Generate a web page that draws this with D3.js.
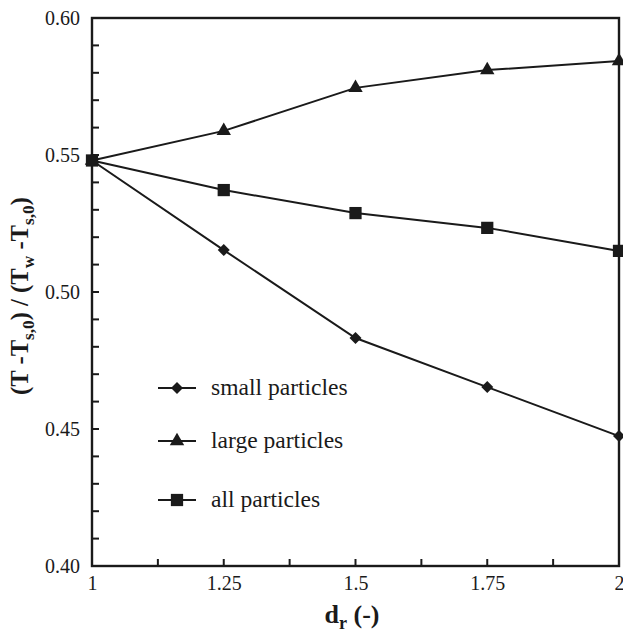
<!DOCTYPE html>
<html>
<head>
<meta charset="utf-8">
<script src="https://cdn.jsdelivr.net/npm/d3@7"></script>
<style>
  body { margin: 0; background: #fff; }
  svg text { font-family: "Liberation Serif", "Times New Roman", Times, "DejaVu Serif", serif; fill: #1a1a1a; }
</style>
</head>
<body>
<div id="chart"></div>
<script>
// data
const dr = [1, 1.25, 1.5, 1.75, 2];
const smallParticles = [0.548, 0.5153, 0.4832, 0.4653, 0.4474];
const largeParticles = [0.548, 0.5588, 0.5745, 0.581, 0.5843];
const allParticles = [0.548, 0.5372, 0.5288, 0.5234, 0.515];
const xTicks = [1, 1.25, 1.5, 1.75, 2];
const yTicks = [0.4, 0.45, 0.5, 0.55, 0.6];

const width = 623, height = 632;
const margin = { top: 18, right: 4, bottom: 66, left: 92 };
const ink = "#1a1a1a";
const serif = '"Liberation Serif", "Times New Roman", Times, "DejaVu Serif", serif';

const svg = d3.select("#chart").append("svg")
  .attr("width", width)
  .attr("height", height);

// scale a text (and its tspans) so its length matches what the reference shows
function fitWidth(sel, target) {
  const w = sel.node().getBBox().width;
  if (!w) return 1;
  const k = target / w;
  sel.attr("font-size", +sel.attr("font-size") * k);
  sel.selectAll("tspan").each(function () {
    const t = d3.select(this);
    if (t.attr("font-size")) t.attr("font-size", +t.attr("font-size") * k);
    if (t.attr("dy")) t.attr("dy", +t.attr("dy") * k);
  });
  return k;
}

const x = d3.scaleLinear().domain([1, 2]).range([margin.left, width - margin.right]);
const y = d3.scaleLinear().domain([0.4, 0.6]).range([height - margin.bottom, margin.top]);

// minor ticks, pointing inward
const xMinor = d3.range(1, 2.0001, 0.125);
const yMinor = d3.range(0.4, 0.6001, 0.01);

svg.append("g")
  .selectAll("line")
  .data(xMinor)
  .join("line")
  .attr("x1", d => x(d)).attr("x2", d => x(d))
  .attr("y1", y(0.4)).attr("y2", y(0.4) - 7)
  .attr("stroke", ink).attr("stroke-width", 2);

svg.append("g")
  .selectAll("line")
  .data(yMinor)
  .join("line")
  .attr("x1", x(1)).attr("x2", x(1) + 7)
  .attr("y1", d => y(d)).attr("y2", d => y(d))
  .attr("stroke", ink).attr("stroke-width", 2);

// frame
svg.append("rect")
  .attr("x", x(1)).attr("y", y(0.6))
  .attr("width", x(2) - x(1)).attr("height", y(0.4) - y(0.6))
  .attr("fill", "none").attr("stroke", ink).attr("stroke-width", 2.4);

// tick labels through d3 axes (lines hidden)
const xAxis = svg.append("g")
  .attr("transform", `translate(0, ${y(0.4)})`)
  .call(d3.axisBottom(x).tickValues(xTicks).tickSize(0).tickPadding(10)
    .tickFormat(d => d3.format("")(d)));
xAxis.attr("font-family", serif);
xAxis.select(".domain").remove();

const yAxis = svg.append("g")
  .attr("transform", `translate(${x(1)}, 0)`)
  .call(d3.axisLeft(y).tickValues(yTicks).tickSize(0).tickPadding(12)
    .tickFormat(d3.format(".2f")));
yAxis.attr("font-family", serif);
yAxis.select(".domain").remove();

const tickText = svg.selectAll(".tick text").attr("font-size", 18).attr("fill", ink);
const probe = yAxis.selectAll(".tick text").filter(d => d === 0.6);
const kTick = probe.node().getBBox().width ? 35 / probe.node().getBBox().width : 1;
tickText.attr("font-size", 18 * kTick);

// series
const series = [
  { name: "small particles", values: smallParticles, symbol: d3.symbolSquare, size: 72, rot: 45 },
  { name: "large particles", values: largeParticles, symbol: d3.symbolTriangle, size: 90, rot: 0 },
  { name: "all particles", values: allParticles, symbol: d3.symbolSquare, size: 150, rot: 0 },
];

const line = d3.line().x((d, i) => x(dr[i])).y(d => y(d));

series.forEach(s => {
  svg.append("path")
    .datum(s.values)
    .attr("d", line)
    .attr("fill", "none")
    .attr("stroke", ink)
    .attr("stroke-width", 2);

  svg.append("g")
    .selectAll("path")
    .data(s.values)
    .join("path")
    .attr("transform", (d, i) => `translate(${x(dr[i])}, ${y(d)}) rotate(${s.rot})`)
    .attr("d", d3.symbol().type(s.symbol).size(s.size))
    .attr("fill", ink);
});

// legend
const legendY = [388, 441, 500];
const legendText = [];
series.forEach((s, i) => {
  const g = svg.append("g").attr("transform", `translate(158, ${legendY[i]})`);
  g.append("line").attr("x1", 0).attr("x2", 38).attr("y1", 0).attr("y2", 0)
    .attr("stroke", ink).attr("stroke-width", 2);
  g.append("path").attr("transform", `translate(19,0) rotate(${s.rot})`)
    .attr("d", d3.symbol().type(s.symbol).size(s.size)).attr("fill", ink);
  legendText.push(g.append("text").attr("x", 53).attr("y", 7)
    .attr("font-family", serif)
    .attr("font-size", 20).text(s.name));
});
const kLeg = fitWidth(legendText[0], 137);
legendText.slice(1).forEach(t => t.attr("font-size", 20 * kLeg));

// axis titles
const xt = svg.append("text")
  .attr("x", 352).attr("y", 623)
  .attr("text-anchor", "middle")
  .attr("font-family", serif)
  .attr("font-size", 20).attr("font-weight", "bold");
xt.append("tspan").text("d");
xt.append("tspan").attr("font-size", 14).attr("dy", 5).text("r");
xt.append("tspan").attr("dy", -5).text(" (-)");
fitWidth(xt, 55);

const yt = svg.append("text")
  .attr("transform", `translate(28, 296) rotate(-90)`)
  .attr("text-anchor", "middle")
  .attr("font-family", serif)
  .attr("font-size", 20).attr("font-weight", "bold");
yt.append("tspan").text("(T -T");
yt.append("tspan").attr("font-size", 14).attr("dy", 5).text("s,0");
yt.append("tspan").attr("dy", -5).text(") / (T");
yt.append("tspan").attr("font-size", 14).attr("dy", 5).text("w");
yt.append("tspan").attr("dy", -5).text(" -T");
yt.append("tspan").attr("font-size", 14).attr("dy", 5).text("s,0");
yt.append("tspan").attr("dy", -5).text(")");
fitWidth(yt, 198);
</script>
</body>
</html>
